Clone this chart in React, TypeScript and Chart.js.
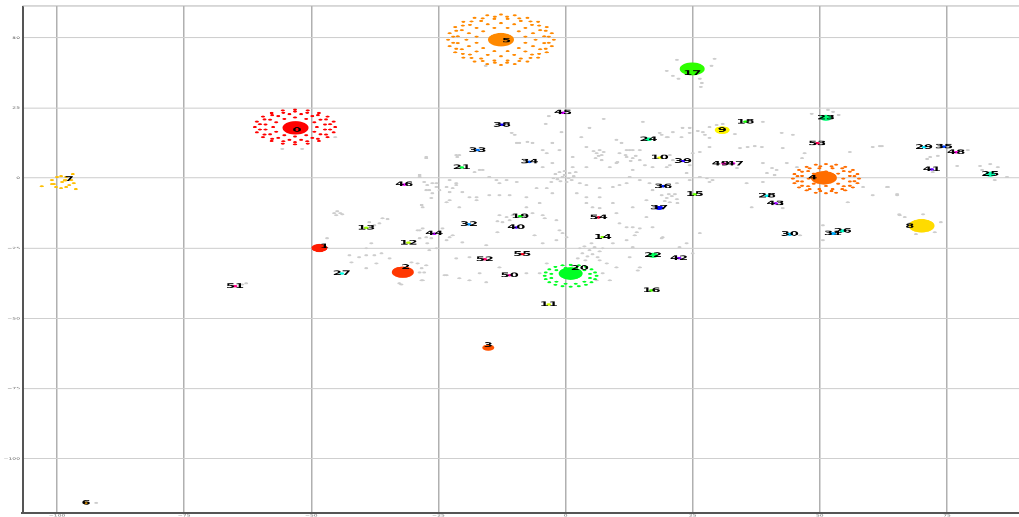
import React, { useEffect, useRef } from "react";
import { Chart, registerables } from "chart.js";

Chart.register(...registerables);

// ---------- data ----------
const clusterIds = Array.from({ length: 56 }, (_, i) => i);

const clusterX = [-53.1, -48.4, -32.0, -15.2, 50.8, -12.7, -94.3, -98.4, 70.0, 30.8, 18.5, -3.3, -30.9, -39.2, 7.3, 25.4, 16.9, 24.9, 35.4, -8.9, 1.0, -20.4, 17.2, 51.2, 16.3, 83.5, 54.5, -44.0, 39.6, 70.5, 44.1, 52.6, -19.0, -17.3, -7.1, 74.4, 19.2, 18.4, -12.5, 23.1, -9.7, 72.0, 22.3, 41.3, -25.8, -0.5, -31.7, 32.9, 76.8, 31.1, -11.0, -65.0, -15.9, 49.5, 6.5, -8.5];
const clusterY = [17.9, -24.9, -33.5, -60.4, 0.1, 49.3, -115.7, -0.8, -17.0, 17.1, 7.3, -45.0, -23.0, -17.7, -21.0, -5.8, -40.0, 38.9, 20.1, -13.6, -34.0, 3.8, -27.5, 21.5, 13.8, 1.4, -18.8, -34.0, -6.3, 11.0, -20.0, -19.8, -16.5, 10.0, 5.8, 11.2, -2.9, -10.6, 19.0, 6.1, -17.6, 3.1, -28.5, -9.0, -19.8, 23.3, -2.3, 5.2, 9.2, 5.2, -34.6, -38.5, -28.9, 12.4, -14.0, -27.1];
const labelX = [-52.8, -47.4, -31.4, -15.2, 48.6, -11.6, -94.3, -97.6, 67.7, 30.8, 18.5, -3.3, -30.9, -39.2, 7.3, 25.4, 16.9, 24.9, 35.4, -8.9, 2.8, -20.4, 17.2, 51.2, 16.3, 83.5, 54.5, -44.0, 39.6, 70.5, 44.1, 52.6, -19.0, -17.3, -7.1, 74.4, 19.2, 18.4, -12.5, 23.1, -9.7, 72.0, 22.3, 41.3, -25.8, -0.5, -31.7, 33.3, 76.8, 30.5, -11.0, -65.0, -15.9, 49.5, 6.5, -8.5];
const labelY = [17.1, -24.4, -31.7, -59.6, 0.1, 48.9, -115.7, -0.4, -17.1, 17.1, 7.3, -45.0, -23.0, -17.7, -21.0, -5.8, -40.0, 37.4, 20.1, -13.6, -32.0, 3.8, -27.5, 21.5, 13.8, 1.4, -18.8, -34.0, -6.3, 11.0, -20.0, -19.8, -16.5, 10.0, 5.8, 11.2, -2.9, -10.6, 19.0, 6.1, -17.6, 3.1, -28.5, -9.0, -19.8, 23.3, -2.3, 5.2, 9.2, 5.2, -34.6, -38.5, -28.9, 12.4, -14.0, -27.1];
const clusterCount = [169, 64, 121, 36, 169, 169, 9, 6, 169, 56, 6, 6, 6, 6, 6, 6, 6, 156, 6, 6, 144, 6, 25, 36, 12, 25, 9, 6, 6, 6, 9, 9, 6, 6, 6, 6, 6, 16, 6, 6, 6, 6, 6, 6, 6, 6, 6, 6, 6, 6, 6, 6, 6, 6, 6, 6];

const cluster0Points: [number, number][] = [
  [-45.3, 18.2], [-45.6, 20.1], [-46.8, 21.9], [-48.5, 23.2], [-50.7, 24.1], [-53.2, 24.4], [-55.6, 24.1], [-57.8, 23.2], [-59.5, 21.9], [-60.7, 20.1],
  [-61.1, 18.2], [-60.7, 16.3], [-59.5, 14.6], [-57.8, 13.2], [-55.6, 12.3], [-53.2, 12.0], [-50.7, 12.3], [-48.5, 13.2], [-46.8, 14.6], [-45.6, 16.3],
  [-46.3, 19.2], [-47.1, 20.9], [-48.7, 22.4], [-50.8, 23.3], [-53.2, 23.7], [-55.5, 23.3], [-57.7, 22.4], [-59.2, 20.9], [-60.1, 19.2],
  [-60.1, 17.3], [-59.2, 15.5], [-57.7, 14.0], [-55.5, 13.1], [-53.2, 12.8], [-50.8, 13.1], [-48.7, 14.0], [-47.1, 15.5], [-46.3, 17.3],
  [-47.3, 19.1], [-48.2, 20.8], [-49.8, 22.1], [-52.0, 22.8], [-54.3, 22.8], [-56.5, 22.1], [-58.1, 20.8], [-59.0, 19.1],
  [-59.0, 17.3], [-58.1, 15.6], [-56.5, 14.3], [-54.3, 13.6], [-52.0, 13.6], [-49.8, 14.3], [-48.2, 15.6], [-47.3, 17.3],
  [-48.9, 18.2], [-49.4, 19.9], [-51.0, 21.1], [-53.2, 21.6], [-55.3, 21.1], [-56.9, 19.9], [-57.5, 18.2], [-56.9, 16.5], [-55.3, 15.3], [-53.2, 14.8], [-51.0, 15.3], [-49.4, 16.5],
];

const cluster4Points: [number, number][] = [
  [57.7, -0.2], [57.4, 1.4], [56.5, 2.9], [55.0, 4.0], [53.2, 4.8], [51.2, 5.0], [49.2, 4.8], [47.4, 4.0], [45.9, 2.9], [45.0, 1.4],
  [44.7, -0.2], [45.0, -1.8], [45.9, -3.3], [47.4, -4.4], [49.2, -5.2], [51.2, -5.4], [53.2, -5.2], [55.0, -4.4], [56.5, -3.3], [57.4, -1.8],
  [56.8, 0.7], [55.9, 2.3], [54.4, 3.5], [52.3, 4.2], [50.1, 4.2], [48.0, 3.5], [46.5, 2.3], [45.6, 0.7],
  [45.6, -1.1], [46.5, -2.7], [48.0, -3.9], [50.1, -4.6], [52.3, -4.6], [54.4, -3.9], [55.9, -2.7], [56.8, -1.1],
  [55.9, 0.8], [54.7, 2.5], [52.5, 3.5], [49.9, 3.5], [47.7, 2.5], [46.5, 0.8], [46.5, -1.2], [47.7, -2.9], [49.9, -3.9], [52.5, -3.9], [54.7, -2.9], [55.9, -1.2],
  [54.6, -0.2], [53.6, 1.6], [51.2, 2.4], [48.8, 1.6], [47.8, -0.2], [48.8, -2.0], [51.2, -2.8], [53.6, -2.0],
];

const cluster5Points: [number, number][] = [
  [-2.3, 49.3], [-2.7, 51.6], [-3.7, 53.8], [-5.4, 55.7], [-7.5, 57.1], [-10.0, 58.0], [-12.7, 58.3], [-15.4, 58.0], [-17.9, 57.1], [-20.1, 55.7], [-21.7, 53.8], [-22.8, 51.6],
  [-23.1, 49.3], [-22.8, 47.0], [-21.7, 44.8], [-20.1, 42.9], [-17.9, 41.5], [-15.4, 40.6], [-12.7, 40.3], [-10.0, 40.6], [-7.5, 41.5], [-5.4, 42.9], [-3.7, 44.8], [-2.7, 47.0],
  [-3.3, 50.4], [-3.9, 52.5], [-5.2, 54.3], [-6.9, 55.8], [-9.1, 56.9], [-11.5, 57.5], [-13.9, 57.5], [-16.3, 56.9], [-18.5, 55.8], [-20.2, 54.3], [-21.5, 52.5], [-22.1, 50.4],
  [-22.1, 48.2], [-21.5, 46.1], [-20.2, 44.3], [-18.5, 42.8], [-16.3, 41.7], [-13.9, 41.1], [-11.5, 41.1], [-9.1, 41.7], [-6.9, 42.8], [-5.2, 44.3], [-3.9, 46.1], [-3.3, 48.2],
  [-4.2, 50.5], [-5.0, 52.7], [-6.6, 54.6], [-8.8, 56.0], [-11.4, 56.7], [-14.0, 56.7], [-16.6, 56.0], [-18.8, 54.6], [-20.4, 52.7], [-21.2, 50.5],
  [-21.2, 48.1], [-20.4, 45.9], [-18.8, 44.0], [-16.6, 42.6], [-14.0, 41.9], [-11.4, 41.9], [-8.8, 42.6], [-6.6, 44.0], [-5.0, 45.9], [-4.2, 48.1],
  [-5.9, 49.3], [-6.4, 51.6], [-7.9, 53.5], [-10.1, 54.8], [-12.7, 55.2], [-15.3, 54.8], [-17.5, 53.5], [-19.0, 51.6],
  [-19.5, 49.3], [-19.0, 47.0], [-17.5, 45.1], [-15.3, 43.9], [-12.7, 43.4], [-10.1, 43.9], [-7.9, 45.1], [-6.4, 47.0],
  [-7.9, 50.4], [-9.2, 52.3], [-11.4, 53.5], [-14.0, 53.5], [-16.2, 52.3], [-17.5, 50.4], [-17.5, 48.2], [-16.2, 46.3], [-14.0, 45.2], [-11.4, 45.2], [-9.2, 46.3], [-7.9, 48.2],
];

const cluster7Points: [number, number][] = [
  [-103.0, -2.9], [-101.0, -0.7], [-100.6, -2.1], [-100.0, 0.4], [-99.2, 0.7], [-99.0, -1.4], [-98.2, 0.4], [-97.2, -0.7],
  [-96.9, 1.4], [-96.7, -1.8], [-96.3, -3.9], [-99.2, -3.6], [-98.2, -3.2], [-100.2, -3.2], [-97.6, -2.5], [-101.0, -2.1],
];

const cluster20Points: [number, number][] = [
  [6.1, -34.8], [5.8, -33.6], [5.1, -32.5], [4.0, -31.6], [2.6, -31.1], [1.0, -30.9], [-0.6, -31.1], [-2.0, -31.6], [-3.2, -32.5], [-3.9, -33.6],
  [-4.1, -34.8], [-3.9, -36.0], [-3.2, -37.1], [-2.0, -38.0], [-0.6, -38.5], [1.0, -38.7], [2.6, -38.5], [4.0, -38.0], [5.1, -37.1], [5.8, -36.0],
  [4.8, -34.1], [3.7, -32.8], [2.0, -32.0], [0.0, -32.0], [-1.8, -32.8], [-2.8, -34.1], [-2.8, -35.6], [-1.8, -36.9], [0.0, -37.6], [2.0, -37.6], [3.7, -36.9], [4.8, -35.6],
];

const noisePoints: [number, number][] = [
  [7.5, 21.1], [15.2, 20.0], [3.1, 14.6], [4.7, 17.9], [-0.8, 16.4], [-9.1, 12.5], [-7.5, 12.9], [-6.5, 12.5], [-2.6, 12.5], [-4.5, 10.0],
  [-3.7, 8.9], [-1.2, 10.0], [1.4, 7.5], [4.1, 11.1], [6.7, 10.0], [6.1, 8.9], [7.1, 8.2], [10.0, 13.6], [11.0, 12.5], [12.6, 10.0],
  [12.0, 7.5], [13.2, 7.1], [10.0, 5.4], [8.7, 3.9], [4.1, 3.9], [1.4, 3.9], [-2.6, 5.4], [-4.5, 3.9], [-9.6, 12.5], [-10.6, 16.1],
  [-10.0, 15.4], [-16.3, 2.9], [-16.9, 2.9], [-17.9, 2.1], [-15.0, 0.4], [-13.6, -0.7], [-11.6, -0.7], [-9.6, -1.4], [-13.0, -1.8], [-20.9, 8.2],
  [-21.3, 7.5], [-27.4, 7.1], [-28.7, 0.4], [-26.8, -4.3], [-25.4, -1.8], [-22.8, -0.7], [-21.5, -1.8], [-20.3, -5.0], [-18.9, -6.8], [-17.5, -6.8],
  [-15.0, -6.1], [-13.0, -6.1], [-11.0, -6.1], [-7.7, -6.8], [-5.7, -3.6], [-3.7, -3.6], [2.8, -1.8], [4.1, -2.5], [6.7, -3.6], [9.3, -3.2],
  [10.6, -2.5], [12.0, -1.8], [6.7, -6.8], [4.1, -6.8], [2.2, -5.4], [-2.6, -5.4], [-5.1, -8.9], [-7.7, -10.4], [-28.1, -10.4], [-22.8, -7.9],
  [-17.5, -7.9], [-20.9, -10.4], [-13.0, -13.2], [-11.6, -13.9], [-11.0, -15.0], [-10.4, -13.2], [-12.4, -15.7], [-13.4, -15.4], [-4.5, -13.2], [-4.1, -14.3],
  [-6.5, -12.5], [-1.8, -15.0], [-1.2, -18.6], [-0.6, -19.6], [0.2, -21.1], [-1.8, -22.1], [-4.5, -23.2], [-6.1, -20.4], [-13.4, -19.3], [-15.6, -23.9],
  [-20.3, -22.9], [-22.8, -21.1], [-24.2, -17.9], [-28.7, -18.6], [-27.4, -21.1], [-28.7, -21.4], [-26.8, -25.7], [-21.5, -28.6], [-18.9, -28.2], [-16.9, -33.9],
  [-13.0, -31.8], [-7.7, -33.9], [-3.7, -30.4], [-5.1, -33.9], [-23.4, -34.6], [-20.9, -35.7], [-18.9, -36.4], [-15.6, -37.1], [-28.1, -36.4], [4.1, -8.9],
  [5.3, -10.4], [6.7, -10.7], [9.3, -8.9], [10.0, -12.5], [10.6, -16.1], [12.0, -17.5], [13.2, -17.5], [14.0, -19.3], [14.6, -17.9], [12.0, -22.1],
  [9.3, -23.2], [6.7, -29.3], [8.1, -30.4], [10.0, -31.8], [14.6, -31.8], [12.6, -28.2], [14.2, -32.9], [7.3, -33.9], [8.7, -36.4], [6.1, -36.4],
  [13.2, -24.6], [23.8, -23.2], [25.0, -26.8], [26.4, -19.6], [22.4, -24.6], [19.1, -21.1], [17.1, -17.5], [15.9, -13.9], [13.2, -10.4], [15.9, -7.9],
  [17.1, -4.3], [16.5, -1.8], [14.6, -0.7], [12.6, 0.4], [18.9, -6.1], [19.9, -7.1], [20.9, -6.4], [21.9, -7.5], [19.5, -8.2], [20.5, -8.6],
  [21.5, -5.7], [20.3, -5.7], [21.9, -1.8], [24.4, -0.7], [26.4, 0.4], [28.9, -0.7], [23.8, 1.8], [25.0, 8.9], [26.4, 9.3], [28.3, 11.1],
  [24.4, 16.1], [27.0, 16.4], [28.3, 14.3], [23.0, 17.9], [21.1, 16.4], [19.9, 14.6], [18.5, 16.1], [13.2, 10.0], [14.6, 10.0], [14.6, 6.4],
  [17.1, 3.9], [19.9, 3.9], [21.1, 6.4], [13.2, 2.9], [10.6, 8.9], [10.2, 5.7], [5.5, 9.6], [6.5, 7.9], [7.5, 9.3], [5.9, 7.1],
  [7.1, 6.4], [11.8, 8.2], [12.8, 6.1], [13.8, 7.9], [-2.0, 1.4], [-1.2, 2.1], [-0.2, 2.5], [0.8, 1.8], [1.6, 0.7], [0.6, 0.0],
  [-0.6, 0.4], [-1.6, -0.4], [-2.4, 0.0], [-1.0, -1.1], [0.2, -1.4], [1.2, -0.7], [-0.2, 1.1], [-2.8, -1.4], [2.0, 2.1], [2.8, -25.0],
  [3.7, -24.3], [4.7, -25.7], [5.7, -24.6], [6.7, -26.1], [3.3, -26.8], [4.3, -27.9], [5.3, -27.1], [6.3, -28.2], [2.4, -28.6], [3.9, -29.3],
  [7.3, -25.0], [5.1, -23.2], [-27.4, 7.5], [-21.5, 8.2], [-28.7, 1.1], [-27.8, -1.4], [-27.2, -2.5], [-26.2, -1.8], [-25.4, -3.2], [-24.8, -4.3],
  [-23.4, -3.2], [-22.8, -5.0], [-22.2, -3.6], [-21.5, -2.5], [-26.2, -5.4], [-27.4, -4.3], [-26.4, -7.1], [-23.4, -8.6], [-28.3, -9.6], [-45.5, -12.5],
  [-44.9, -11.8], [-44.3, -12.5], [-45.1, -13.2], [-43.9, -12.9], [-36.0, -14.3], [-35.0, -14.6], [-36.6, -16.1], [-37.6, -16.8], [-38.6, -15.7], [-46.9, -21.4],
  [-29.1, -18.6], [-28.1, -17.9], [-26.4, -21.4], [-27.2, -23.2], [-25.4, -25.0], [-23.4, -22.1], [-22.2, -20.4], [-39.2, -25.0], [-38.2, -23.2], [-42.5, -27.5],
  [-40.6, -28.2], [-39.2, -27.5], [-37.6, -27.5], [-36.2, -26.8], [-34.6, -28.6], [-42.1, -30.0], [-39.2, -32.1], [-37.2, -30.4], [-30.3, -30.0], [-29.1, -30.4],
  [-28.3, -32.1], [-27.8, -33.6], [-28.7, -33.6], [-28.3, -36.4], [-32.7, -37.5], [-32.3, -37.9], [-27.4, -31.1], [-23.8, -34.6], [-62.8, -37.5], [-63.6, -37.9],
  [-55.7, 10.4], [-51.8, 10.4], [-45.3, 14.6], [18.9, 15.4], [20.1, 14.6], [22.8, 14.6], [24.4, 17.9], [26.0, 16.8], [27.4, 15.4], [28.3, 18.2],
  [29.7, 18.9], [33.3, 15.7], [30.9, 19.3], [38.8, 20.0], [42.5, 16.1], [44.7, 15.4], [34.3, 10.7], [35.8, 11.1], [37.2, 11.4], [38.6, 11.1],
  [42.7, 10.7], [43.5, 5.4], [45.5, 3.9], [46.5, 7.1], [47.0, 8.9], [38.8, 5.4], [40.6, 3.6], [41.5, 2.9], [39.6, 1.8], [41.1, 1.1],
  [38.8, -1.4], [35.6, -1.8], [27.8, 0.0], [33.7, 3.6], [55.9, 9.3], [60.4, 11.1], [61.8, 11.4], [58.5, -3.2], [60.4, -6.1], [63.2, -3.2],
  [65.2, -6.1], [55.5, -8.6], [50.6, -16.8], [50.6, -22.1], [46.1, -20.4], [36.6, -10.4], [42.7, -10.7], [13.6, -20.4], [18.9, -21.4], [22.0, -8.9],
  [26.4, -5.4], [28.3, -1.4], [12.0, 10.0], [15.6, 4.6], [20.5, 8.2], [20.5, 4.6], [24.4, 4.6], [65.7, -13.2], [66.7, -13.9], [67.7, -16.1],
  [62.2, 11.4], [63.4, -3.2], [65.2, -5.7], [71.7, 7.5], [73.2, 7.9], [71.1, 6.8], [79.1, 10.0], [77.0, 4.3], [81.5, 4.3], [83.5, 5.0],
  [85.0, 3.9], [81.9, 2.9], [84.4, -0.7], [86.8, 0.4], [72.2, 2.1], [65.6, -12.9], [70.3, -12.9], [73.8, -15.7], [72.6, -19.3], [68.9, -20.0],
  [51.6, 24.3], [52.6, 23.6], [48.4, 22.9], [53.7, 22.5], [21.9, 42.1], [19.9, 38.2], [21.1, 36.4], [22.2, 35.4], [26.4, 35.4], [26.8, 33.9],
  [26.6, 32.5], [29.3, 42.5], [28.7, 40.0], [-92.3, -115.7], [-15.7, 40.0], [-3.9, 19.3], [-3.3, 22.1],
];

const xTicksStep = 25;
const yTicksStep = 25;

// ---------- styling helpers ----------
const clusterColor = (i: number) => `hsl(${(i / 56) * 360}, 100%, 50%)`;
const FONT = '"DejaVu Sans", "Liberation Sans", sans-serif';
const CANVAS_W = 1019;
const CANVAS_H = 1000; // drawn then squeezed to 517 px
const SHOW_H = 517;

const fmt = (v: number | string) => {
  const n = Number(v);
  return n < 0 ? "\u2212" + Math.abs(n) : String(n);
};

const toXY = (pts: [number, number][]) => pts.map(([x, y]) => ({ x, y }));

const frameTop = {
  id: "frameTop",
  afterDraw(chart: any) {
    const { ctx, chartArea } = chart;
    ctx.save();
    ctx.strokeStyle = "#b5b5b5";
    ctx.lineWidth = 2;
    ctx.beginPath();
    ctx.moveTo(chartArea.left, chartArea.top);
    ctx.lineTo(chartArea.right, chartArea.top);
    ctx.stroke();
    ctx.restore();
  },
};

const clusterLabels = {
  id: "clusterLabels",
  afterDatasetsDraw(chart: any) {
    const { ctx } = chart;
    const xs = chart.scales.x;
    const ys = chart.scales.y;
    ctx.save();
    ctx.font = `bold 13px ${FONT}`;
    ctx.fillStyle = "#000";
    ctx.textAlign = "center";
    ctx.textBaseline = "middle";
    clusterIds.forEach((id, i) => {
      ctx.fillText(String(id), xs.getPixelForValue(labelX[i]), ys.getPixelForValue(labelY[i]));
    });
    ctx.restore();
  },
};

export default function App() {
  const ref = useRef<HTMLCanvasElement>(null);

  useEffect(() => {
    const canvas = ref.current;
    if (!canvas) return;

    const memberSets: { id: number; pts: [number, number][] }[] = [
      { id: 0, pts: cluster0Points },
      { id: 4, pts: cluster4Points },
      { id: 5, pts: cluster5Points },
      { id: 7, pts: cluster7Points },
      { id: 20, pts: cluster20Points },
    ];

    const datasets: any[] = [
      {
        label: "centroids",
        order: 0,
        data: clusterIds.map((_, i) => ({ x: clusterX[i], y: clusterY[i] })),
        backgroundColor: clusterIds.map((i) => clusterColor(i)),
        borderWidth: 0,
        pointRadius: clusterCount.map((c) => Math.sqrt(c)),
        pointHoverRadius: clusterCount.map((c) => Math.sqrt(c)),
      },
      ...memberSets.map((m) => ({
        label: "cluster " + m.id,
        order: 1,
        data: toXY(m.pts),
        backgroundColor: clusterColor(m.id),
        borderWidth: 0,
        pointRadius: 2.0,
      })),
      {
        label: "noise",
        order: 2,
        data: toXY(noisePoints),
        backgroundColor: "#cdcdcd",
        borderWidth: 0,
        pointRadius: 2.0,
      },
    ];

    const chart = new Chart(canvas, {
      type: "scatter",
      data: { datasets },
      plugins: [frameTop, clusterLabels],
      options: {
        animation: false,
        responsive: false,
        devicePixelRatio: 1,
        events: [],
        layout: { autoPadding: false, padding: { top: 11.6, right: 0, bottom: 0, left: 0 } },
        plugins: { legend: { display: false }, tooltip: { enabled: false } },
        scales: {
          x: {
            type: "linear",
            min: -106.69,
            max: 89.16,
            afterFit: (s: any) => {
              s.height = 7.7;
            },
            ticks: {
              stepSize: xTicksStep,
              includeBounds: false,
              maxRotation: 0,
              autoSkip: false,
              padding: 2,
              color: "#666",
              font: { size: 6, family: FONT },
              callback: (v: any) => fmt(v),
            },
            grid: { color: "#b0b0b0", lineWidth: 1.5, drawTicks: false },
            border: { color: "#555", width: 4 },
          },
          y: {
            type: "linear",
            min: -119.3,
            max: 61.3,
            afterFit: (s: any) => {
              s.width = 23;
            },
            ticks: {
              stepSize: yTicksStep,
              includeBounds: false,
              autoSkip: false,
              padding: 3,
              color: "#666",
              font: { size: 6, family: FONT },
              callback: (v: any) => fmt(v),
            },
            grid: { color: "#cfcfcf", lineWidth: 2, drawTicks: false },
            border: { color: "#555", width: 2 },
          },
        },
      } as any,
    });

    return () => chart.destroy();
  }, []);

  return (
    <div
      style={{
        position: "absolute",
        left: 0,
        top: 0,
        width: CANVAS_W,
        height: SHOW_H,
        background: "#fff",
        overflow: "hidden",
      }}
    >
      <canvas
        ref={ref}
        width={CANVAS_W}
        height={CANVAS_H}
        style={{ width: `${CANVAS_W}px`, height: `${SHOW_H}px`, display: "block" }}
      />
    </div>
  );
}
